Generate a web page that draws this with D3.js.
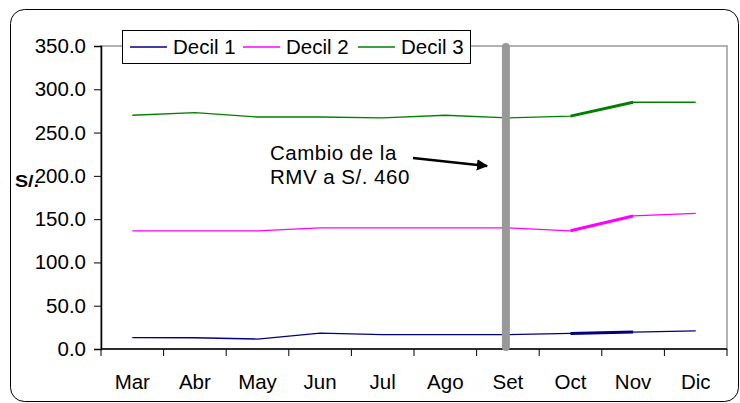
<!DOCTYPE html>
<html>
<head>
<meta charset="utf-8">
<script src="https://cdn.jsdelivr.net/npm/d3@7"></script>
<style>
  body { margin: 0; background: #fff; }
  text { font-family: Arial, "Liberation Sans", sans-serif; }
</style>
</head>
<body>
<script>
const width = 740;
const height = 403;

const months = ['Mar', 'Abr', 'May', 'Jun', 'Jul', 'Ago', 'Set', 'Oct', 'Nov', 'Dic'];
const decil1 = [13.2, 13.0, 11.5, 18.4, 16.5, 16.5, 16.5, 18.0, 19.5, 21.0];
const decil2 = [136.4, 136.4, 136.4, 140.0, 140.0, 140.0, 140.0, 136.5, 153.7, 156.6];
const decil3 = [270.0, 273.0, 268.0, 268.0, 267.0, 270.0, 267.0, 269.0, 285.0, 285.0];
const seriesNames = ['Decil 1', 'Decil 2', 'Decil 3'];
const seriesColors = ['#000080', '#ff00ff', '#008000'];
const yTicks = [0, 50, 100, 150, 200, 250, 300, 350];
// tramo resaltado (Oct -> Nov)
const highlight = ['Oct', 'Nov'];
const changeMonth = 'Set';

const series = [decil1, decil2, decil3].map((vals, i) => ({
    name: seriesNames[i],
    color: seriesColors[i],
    values: vals.map((v, j) => ({ month: months[j], value: v }))
}));

const margin = { top: 46, right: 13, bottom: 54, left: 101 };
const fontSize = 20.5;

const svg = d3.select('body')
    .append('svg')
    .attr('width', width)
    .attr('height', height);

// marco exterior redondeado
svg.append('rect')
    .attr('x', 10.5).attr('y', 9.5)
    .attr('width', 728).attr('height', 392)
    .attr('rx', 14)
    .attr('fill', '#fff')
    .attr('stroke', '#000')
    .attr('stroke-width', 1);

const x = d3.scaleBand()
    .domain(months)
    .range([margin.left, width - margin.right]);

const y = d3.scaleLinear()
    .domain([0, 350])
    .range([height - margin.bottom, margin.top]);

// borde del area de trazado
svg.append('rect')
    .attr('x', margin.left)
    .attr('y', y(350))
    .attr('width', x.range()[1] - margin.left)
    .attr('height', y(0) - y(350))
    .attr('fill', 'none')
    .attr('stroke', '#999')
    .attr('stroke-width', 1.5);

const yAxis = svg.append('g')
    .attr('transform', `translate(${margin.left},0)`)
    .call(d3.axisLeft(y).tickValues(yTicks).tickFormat(d3.format('.1f')).tickSize(7).tickPadding(8));

const xAxis = svg.append('g')
    .attr('transform', `translate(0,${y(0)})`)
    .call(d3.axisBottom(x).tickSize(0).tickPadding(25));

// ticks entre categorias
xAxis.selectAll('.sep')
    .data(months.concat(['end']))
    .join('line')
    .attr('class', 'sep')
    .attr('x1', (d, i) => margin.left + i * x.bandwidth())
    .attr('x2', (d, i) => margin.left + i * x.bandwidth())
    .attr('y1', 0).attr('y2', 7)
    .attr('stroke', '#000');

[yAxis, xAxis].forEach(g => {
    g.attr('font-size', fontSize).attr('font-family', 'Arial, "Liberation Sans", sans-serif');
    g.select('.domain').attr('stroke', '#000').attr('stroke-width', 1.5);
    g.selectAll('.tick line').attr('stroke', '#000');
    g.selectAll('text').attr('fill', '#000');
});
xAxis.select('.domain').attr('d', `M${margin.left},0H${width - margin.right}`);

const cx = d => x(d.month) + x.bandwidth() / 2;

const line = d3.line()
    .x(cx)
    .y(d => y(d.value));

svg.append('g')
    .selectAll('path')
    .data(series)
    .join('path')
    .attr('fill', 'none')
    .attr('stroke', d => d.color)
    .attr('stroke-width', 1.3)
    .attr('d', d => line(d.values));

svg.append('g')
    .selectAll('path')
    .data(series)
    .join('path')
    .attr('fill', 'none')
    .attr('stroke', d => d.color)
    .attr('stroke-width', 3)
    .attr('d', d => line(d.values.filter(v => highlight.includes(v.month))));

// linea vertical del cambio de RMV
svg.append('line')
    .attr('x1', x(changeMonth) + x.bandwidth() / 2 - 2)
    .attr('x2', x(changeMonth) + x.bandwidth() / 2 - 2)
    .attr('y1', y(350) + 1)
    .attr('y2', y(0) - 2)
    .attr('stroke', '#999')
    .attr('stroke-width', 8)
    .attr('stroke-linecap', 'round');

// leyenda
const legend = svg.append('g');
legend.append('rect')
    .attr('x', 122.5).attr('y', 30.5)
    .attr('width', 348).attr('height', 33)
    .attr('fill', '#fff')
    .attr('stroke', '#000');

const legendX = [130, 243, 358];
const items = legend.selectAll('g')
    .data(series)
    .join('g')
    .attr('transform', (d, i) => `translate(${legendX[i]},47)`);
items.append('line')
    .attr('x1', 0).attr('x2', 37)
    .attr('stroke', d => d.color)
    .attr('stroke-width', 1.3);
items.append('text')
    .attr('x', 43).attr('y', 7)
    .attr('font-size', fontSize)
    .text(d => d.name);

// anotacion
const note = svg.append('text')
    .attr('x', 270).attr('y', 160)
    .attr('font-size', 20.5)
    .attr('letter-spacing', 0.5);
note.append('tspan').attr('x', 270).text('Cambio de la');
note.append('tspan').attr('x', 270).attr('dy', 23.5).text('RMV a S/. 460');

svg.append('defs').append('marker')
    .attr('id', 'arrow')
    .attr('viewBox', '0 0 10 10')
    .attr('refX', 9).attr('refY', 5)
    .attr('markerWidth', 4.5).attr('markerHeight', 4.5)
    .attr('orient', 'auto')
    .append('path')
    .attr('d', 'M0,0L10,5L0,10z')
    .attr('fill', '#000');

svg.append('line')
    .attr('x1', 413).attr('y1', 158)
    .attr('x2', 487).attr('y2', 166)
    .attr('stroke', '#000')
    .attr('stroke-width', 2.5)
    .attr('marker-end', 'url(#arrow)');

// titulo eje Y
svg.append('text')
    .attr('x', 15).attr('y', 187)
    .attr('font-size', 17)
    .attr('font-weight', 'bold')
    .attr('textLength', 24)
    .attr('lengthAdjust', 'spacingAndGlyphs')
    .text('S/.');
</script>
</body>
</html>
